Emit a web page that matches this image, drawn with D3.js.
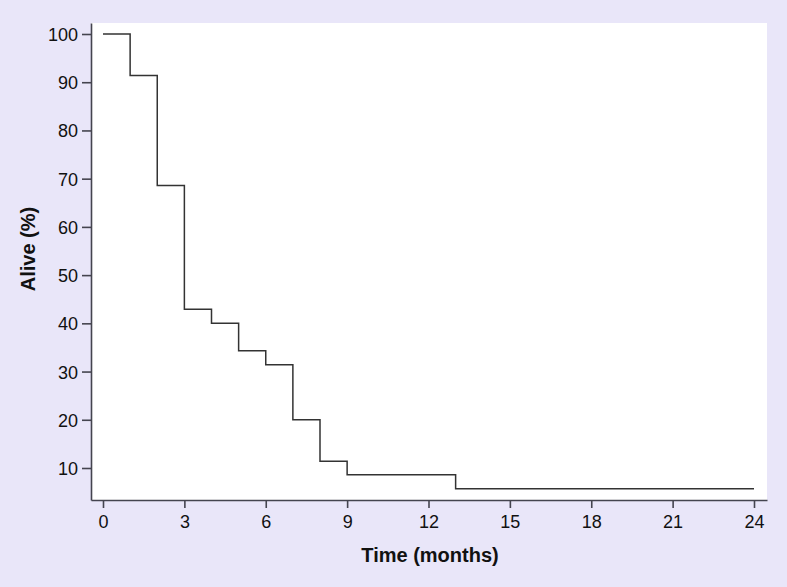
<!DOCTYPE html>
<html>
<head>
<meta charset="utf-8">
<script src="https://cdn.jsdelivr.net/npm/d3@7/dist/d3.min.js"></script>
<style>
    body { margin: 0; background: #e9e6f9; }
    svg { display: block; }
    .tick text { font-family: "Liberation Sans", Arial, sans-serif; font-size: 18px; fill: #111; }
    .axis-title { font-family: "Liberation Sans", Arial, sans-serif; font-size: 20px; font-weight: bold; fill: #111; }
</style>
</head>
<body>
<script>
// survival curve (months, % alive)
let months = [0, 1, 2, 3, 4, 5, 6, 7, 8, 9, 13, 24];
let alive = [100, 91.4, 68.6, 42.9, 40.0, 34.3, 31.4, 20.0, 11.4, 8.6, 5.7, 5.7];
let xTicks = [0, 3, 6, 9, 12, 15, 18, 21, 24];
let yTicks = [10, 20, 30, 40, 50, 60, 70, 80, 90, 100];

const width = 787, height = 587;
const box = {left: 91, right: 767, top: 23, bottom: 500};

const svg = d3.select("body").append("svg")
    .attr("width", width)
    .attr("height", height);

svg.append("rect")
    .attr("width", width).attr("height", height)
    .attr("fill", "#e9e6f9");

svg.append("rect")
    .attr("x", box.left).attr("y", box.top)
    .attr("width", box.right - box.left)
    .attr("height", box.bottom - box.top)
    .attr("fill", "#fff");

// 0..24 months -> 103..754 px, extended to the plot box
const xBase = d3.scaleLinear().domain([0, 24]).range([103, 754]);
const x = d3.scaleLinear()
    .domain([xBase.invert(box.left), xBase.invert(box.right)])
    .range([box.left, box.right]);

const yBase = d3.scaleLinear().domain([10, 100]).range([468, 34]);
const y = d3.scaleLinear()
    .domain([yBase.invert(box.bottom), yBase.invert(box.top)])
    .range([box.bottom, box.top]);

const xAxis = svg.append("g")
    .attr("transform", "translate(0," + box.bottom + ")")
    .call(d3.axisBottom(x).tickValues(xTicks).tickSize(8).tickSizeOuter(0).tickPadding(7));

const yAxis = svg.append("g")
    .attr("transform", "translate(" + box.left + ",0)")
    .call(d3.axisLeft(y).tickValues(yTicks).tickSize(9).tickSizeOuter(0).tickPadding(4));

[xAxis, yAxis].forEach(a => {
    a.selectAll("path, line").attr("stroke", "#44444f").attr("stroke-width", 1.6);
});
yAxis.selectAll(".tick text").attr("dy", "0.36em");

const line = d3.line()
    .x((d, i) => x(months[i]))
    .y(d => y(d))
    .curve(d3.curveStepAfter);

svg.append("path")
    .datum(alive)
    .attr("d", line)
    .attr("fill", "none")
    .attr("stroke", "#333")
    .attr("stroke-width", 1.5);

svg.append("text")
    .attr("class", "axis-title")
    .attr("x", 430).attr("y", 562)
    .attr("text-anchor", "middle")
    .text("Time (months)");

svg.append("text")
    .attr("class", "axis-title")
    .attr("transform", "translate(35,249) rotate(-90)")
    .attr("text-anchor", "middle")
    .text("Alive (%)");
</script>
</body>
</html>
